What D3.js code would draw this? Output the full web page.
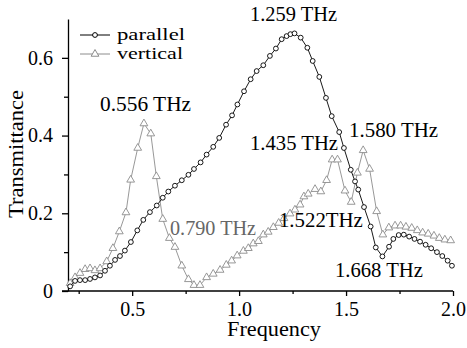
<!DOCTYPE html>
<html>
<head>
<meta charset="utf-8">
<script src="https://cdn.jsdelivr.net/npm/d3@7"></script>
<style>
  body { margin: 0; background: #fff; }
  .axis path, .axis line { stroke: #000; stroke-width: 1.3; }
</style>
</head>
<body>
<svg id="chart" width="467" height="348"></svg>
<script>
// values
const parallelFreq = [0.21, 0.233, 0.256, 0.28, 0.303, 0.326, 0.35, 0.373, 0.396, 0.42, 0.443, 0.466, 0.494, 0.524, 0.552,
  0.583, 0.615, 0.643, 0.669, 0.7, 0.732, 0.763, 0.789, 0.82, 0.848, 0.879, 0.907, 0.939, 0.967, 0.992,
  1.023, 1.054, 1.082, 1.113, 1.144, 1.172, 1.199, 1.222, 1.24, 1.259, 1.288, 1.319, 1.344, 1.375, 1.406,
  1.433, 1.468, 1.49, 1.522, 1.542, 1.557, 1.584, 1.615, 1.639, 1.67, 1.701, 1.721, 1.746, 1.77, 1.795,
  1.82, 1.846, 1.872, 1.898, 1.925, 1.95, 1.975, 1.995];
const parallelT = [0.012, 0.026, 0.028, 0.028, 0.031, 0.035, 0.04, 0.052, 0.065, 0.08, 0.09, 0.104, 0.126, 0.156, 0.183,
  0.203, 0.22, 0.24, 0.256, 0.271, 0.285, 0.299, 0.314, 0.331, 0.351, 0.371, 0.394, 0.428, 0.452, 0.48,
  0.514, 0.545, 0.566, 0.581, 0.605, 0.624, 0.648, 0.656, 0.661, 0.663, 0.652, 0.626, 0.592, 0.551, 0.497,
  0.45, 0.409, 0.368, 0.312, 0.282, 0.261, 0.216, 0.166, 0.112, 0.089, 0.114, 0.134, 0.144, 0.145, 0.14,
  0.134, 0.127, 0.119, 0.11, 0.1, 0.09, 0.078, 0.065];

const verticalFreq = [0.21, 0.233, 0.256, 0.28, 0.303, 0.326, 0.35, 0.381, 0.41, 0.44, 0.471, 0.493, 0.526, 0.555, 0.587,
  0.613, 0.643, 0.674, 0.7, 0.732, 0.763, 0.789, 0.817, 0.848, 0.879, 0.911, 0.94, 0.965, 0.991, 1.02,
  1.043, 1.066, 1.09, 1.113, 1.136, 1.16, 1.185, 1.21, 1.238, 1.261, 1.285, 1.303, 1.323, 1.355, 1.382,
  1.409, 1.435, 1.46, 1.495, 1.524, 1.553, 1.58, 1.61, 1.643, 1.672, 1.7, 1.729, 1.755, 1.78, 1.807,
  1.833, 1.858, 1.884, 1.911, 1.936, 1.962, 1.989];
const verticalT = [0.02, 0.035, 0.046, 0.056, 0.058, 0.053, 0.058, 0.076, 0.11, 0.153, 0.202, 0.286, 0.368, 0.431, 0.405,
  0.295, 0.185, 0.136, 0.113, 0.065, 0.03, 0.015, 0.015, 0.035, 0.044, 0.054, 0.067, 0.078, 0.091, 0.103,
  0.11, 0.122, 0.128, 0.145, 0.152, 0.164, 0.175, 0.187, 0.199, 0.209, 0.222, 0.243, 0.25, 0.262, 0.256,
  0.285, 0.338, 0.338, 0.258, 0.229, 0.304, 0.362, 0.314, 0.205, 0.145, 0.163, 0.168, 0.168, 0.165, 0.162,
  0.156, 0.15, 0.147, 0.142, 0.136, 0.132, 0.13];

const xTicks = [0.5, 1.0, 1.5, 2.0];
const xMinorTicks = [0.25, 0.75, 1.25, 1.75];
const yTicks = [0, 0.2, 0.4, 0.6];
const yMinorTicks = [0.1, 0.3, 0.5];

// peak annotations: label, frequency and transmittance of the label's left baseline
const noteText = ['1.259 THz', '0.556 THz', '1.435 THz', '1.580 THz', '0.790 THz', '1.522THz', '1.668 THz'];
const noteFreq = [1.051, 0.35, 1.051, 1.514, 0.677, 1.186, 1.448];
const noteT = [0.694, 0.464, 0.364, 0.397, 0.144, 0.165, 0.036];
const noteWidth = [87, 91, 88, 89, 86, 84, 88];
const noteColor = ['#000', '#000', '#000', '#000', '#666', '#000', '#000'];

const seriesNames = ['parallel', 'vertical'];

const serif = "'Liberation Serif', 'Times New Roman', 'DejaVu Serif', serif";

const margin = { top: 19, right: 14, bottom: 57, left: 68 };
const width = 467 - margin.left - margin.right;
const height = 348 - margin.top - margin.bottom;

const svg = d3.select('#chart');
const g = svg.append('g').attr('transform', `translate(${margin.left},${margin.top})`);

const x = d3.scaleLinear().domain([0.2, 2.0]).range([0, width]);
const y = d3.scaleLinear().domain([0, 0.7]).range([height, 0]);

// minor ticks first, then the labelled axes on top
g.append('g')
  .attr('class', 'axis')
  .attr('transform', `translate(0,${height})`)
  .call(d3.axisBottom(x).tickValues(xMinorTicks).tickSize(3).tickSizeOuter(0).tickFormat(''))
  .select('.domain').remove();

g.append('g')
  .attr('class', 'axis')
  .call(d3.axisLeft(y).tickValues(yMinorTicks).tickSize(4).tickSizeOuter(0).tickFormat(''))
  .select('.domain').remove();

const xAxis = g.append('g')
  .attr('class', 'axis')
  .attr('transform', `translate(0,${height})`)
  .call(d3.axisBottom(x).tickValues(xTicks).tickSize(5).tickSizeOuter(0).tickPadding(6)
    .tickFormat(d3.format('.1f')));
xAxis.select('.domain').attr('d', `M-6,0H${width}`);

g.append('g')
  .attr('class', 'axis')
  .call(d3.axisLeft(y).tickValues(yTicks).tickSize(6).tickSizeOuter(0).tickPadding(9)
    .tickFormat((d) => d === 0 ? '0' : d3.format('.1f')(d)));

g.selectAll('.axis')
  .attr('font-family', null)
  .attr('font-size', null);
g.selectAll('.axis text')
  .style('font-size', '20px')
  .style('fill', '#000');

// axis titles
g.append('text')
  .attr('x', 206)
  .attr('y', height + 45)
  .attr('text-anchor', 'middle')
  .attr('textLength', 94)
  .attr('lengthAdjust', 'spacingAndGlyphs')
  .style('font-size', '20px')
  .text('Frequency');

g.append('text')
  .attr('transform', `translate(-45,${height / 2 - 1}) rotate(-90)`)
  .attr('text-anchor', 'middle')
  .attr('textLength', 128)
  .attr('lengthAdjust', 'spacingAndGlyphs')
  .style('font-size', '20px')
  .text('Transmittance');

const parallel = parallelFreq.map((f, i) => ({ f, t: parallelT[i] }));
const vertical = verticalFreq.map((f, i) => ({ f, t: verticalT[i] }));

const line = d3.line()
  .x((d) => x(d.f))
  .y((d) => y(d.t));

const tri = d3.symbol().type(d3.symbolTriangle).size(26);
const grey = '#8c8c8c';

// vertical polarisation (grey triangles)
g.append('path')
  .datum(vertical)
  .attr('fill', 'none')
  .attr('stroke', grey)
  .attr('stroke-width', 0.9)
  .attr('d', line);

g.selectAll('.tri')
  .data(vertical)
  .enter().append('path')
  .attr('class', 'tri')
  .attr('transform', (d) => `translate(${x(d.f)},${y(d.t)})`)
  .attr('d', tri)
  .attr('fill', '#fff')
  .attr('stroke', grey)
  .attr('stroke-width', 0.9);

// parallel polarisation (black circles)
g.append('path')
  .datum(parallel)
  .attr('fill', 'none')
  .attr('stroke', '#000')
  .attr('stroke-width', 0.9)
  .attr('d', line);

g.selectAll('.dot')
  .data(parallel)
  .enter().append('circle')
  .attr('class', 'dot')
  .attr('cx', (d) => x(d.f))
  .attr('cy', (d) => y(d.t))
  .attr('r', 2.4)
  .attr('fill', '#fff')
  .attr('stroke', '#000')
  .attr('stroke-width', 0.9);

// annotations
g.selectAll('.note')
  .data(noteText)
  .enter().append('text')
  .attr('class', 'note')
  .attr('x', (d, i) => x(noteFreq[i]))
  .attr('y', (d, i) => y(noteT[i]))
  .attr('textLength', (d, i) => noteWidth[i])
  .attr('lengthAdjust', 'spacingAndGlyphs')
  .style('font-size', '20px')
  .style('fill', (d, i) => noteColor[i])
  .text((d) => d);

// legend
const legend = g.append('g').attr('transform', 'translate(12,16)');
const legendItem = legend.selectAll('g')
  .data(seriesNames)
  .enter().append('g')
  .attr('transform', (d, i) => `translate(0,${i * 19})`);

legendItem.append('line')
  .attr('x1', 0).attr('x2', 30)
  .attr('stroke', (d, i) => i === 0 ? '#000' : grey)
  .attr('stroke-width', 1);

legendItem.each(function (d, i) {
  const item = d3.select(this);
  if (i === 0) {
    item.append('circle').attr('cx', 15).attr('r', 2.4)
      .attr('fill', '#fff').attr('stroke', '#000');
  } else {
    item.append('path').attr('transform', 'translate(15,0)').attr('d', tri)
      .attr('fill', '#fff').attr('stroke', grey);
  }
});

legendItem.append('text')
  .attr('x', 37)
  .attr('y', 5)
  .attr('textLength', (d, i) => i === 0 ? 68 : 66)
  .attr('lengthAdjust', 'spacingAndGlyphs')
  .style('font-size', '17px')
  .text((d) => d);

// one serif face for every text, as in the reference
svg.selectAll('text').style('font-family', serif);
</script>
</body>
</html>
